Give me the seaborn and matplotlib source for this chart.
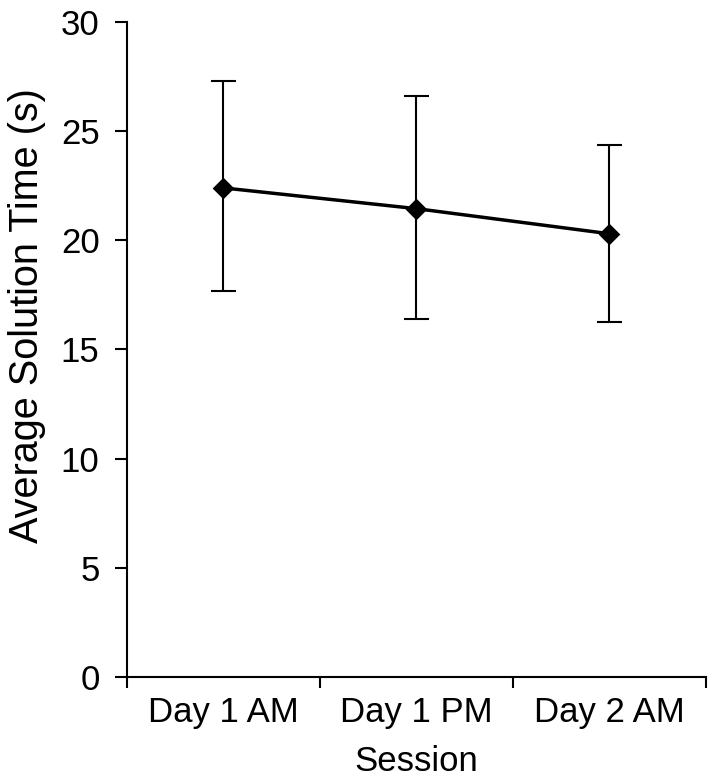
import matplotlib
matplotlib.use("Agg")
import matplotlib.pyplot as plt
import seaborn as sns
import pandas as pd
import numpy as np

sessions = ["Day 1 AM", "Day 1 PM", "Day 2 AM"]
mean_time = [22.4, 21.45, 20.3]
err_upper = [27.3, 26.6, 24.35]
err_lower = [17.7, 16.4, 16.25]

sns.set_theme(style="ticks")
plt.rcParams['font.family'] = ['Liberation Sans', 'DejaVu Sans']

df = pd.DataFrame({"Session": sessions, "Time": mean_time})

fig = plt.figure(figsize=(7.09, 7.84), dpi=100)
ax = fig.add_axes([0.1786, 0.1365, 0.817, 0.8355])

pos = np.arange(len(sessions))
yerr = [np.array(mean_time) - np.array(err_lower), np.array(err_upper) - np.array(mean_time)]
ax.errorbar(pos, mean_time, yerr=yerr, fmt="none", ecolor="black",
            elinewidth=1.5, capsize=9, capthick=1.5, zorder=2)
sns.pointplot(data=df, x="Session", y="Time", ax=ax, color="black",
              markers="D", linewidth=2.5, markersize=9, errorbar=None, zorder=3)

ax.set_xlim(-0.5, 2.5)
ax.set_ylim(0, 30)
ax.set_yticks([0, 5, 10, 15, 20, 25, 30])
ax.set_xticks(pos)
ax.set_xticklabels(sessions)
ax.set_xticks([-0.5, 0.5, 1.5, 2.5], minor=True)
ax.tick_params(axis="x", which="major", length=0, labelsize=25, pad=14, colors="black")
ax.tick_params(axis="x", which="minor", length=8, width=1.5, color="black")
ax.tick_params(axis="y", which="major", length=8.5, width=1.5, labelsize=25, pad=11, colors="black")

for s in ["top", "right"]:
    ax.spines[s].set_visible(False)
for s in ["left", "bottom"]:
    ax.spines[s].set_linewidth(1.5)
    ax.spines[s].set_color("black")

ax.set_xlabel("Session", fontsize=25, labelpad=11, color="black")
ax.set_ylabel("Average Solution Time (s)", fontsize=28.5, labelpad=11, color="black")
ax.yaxis.label.set_y(0.551)

fig.savefig("out.png", dpi=100, facecolor="white")
